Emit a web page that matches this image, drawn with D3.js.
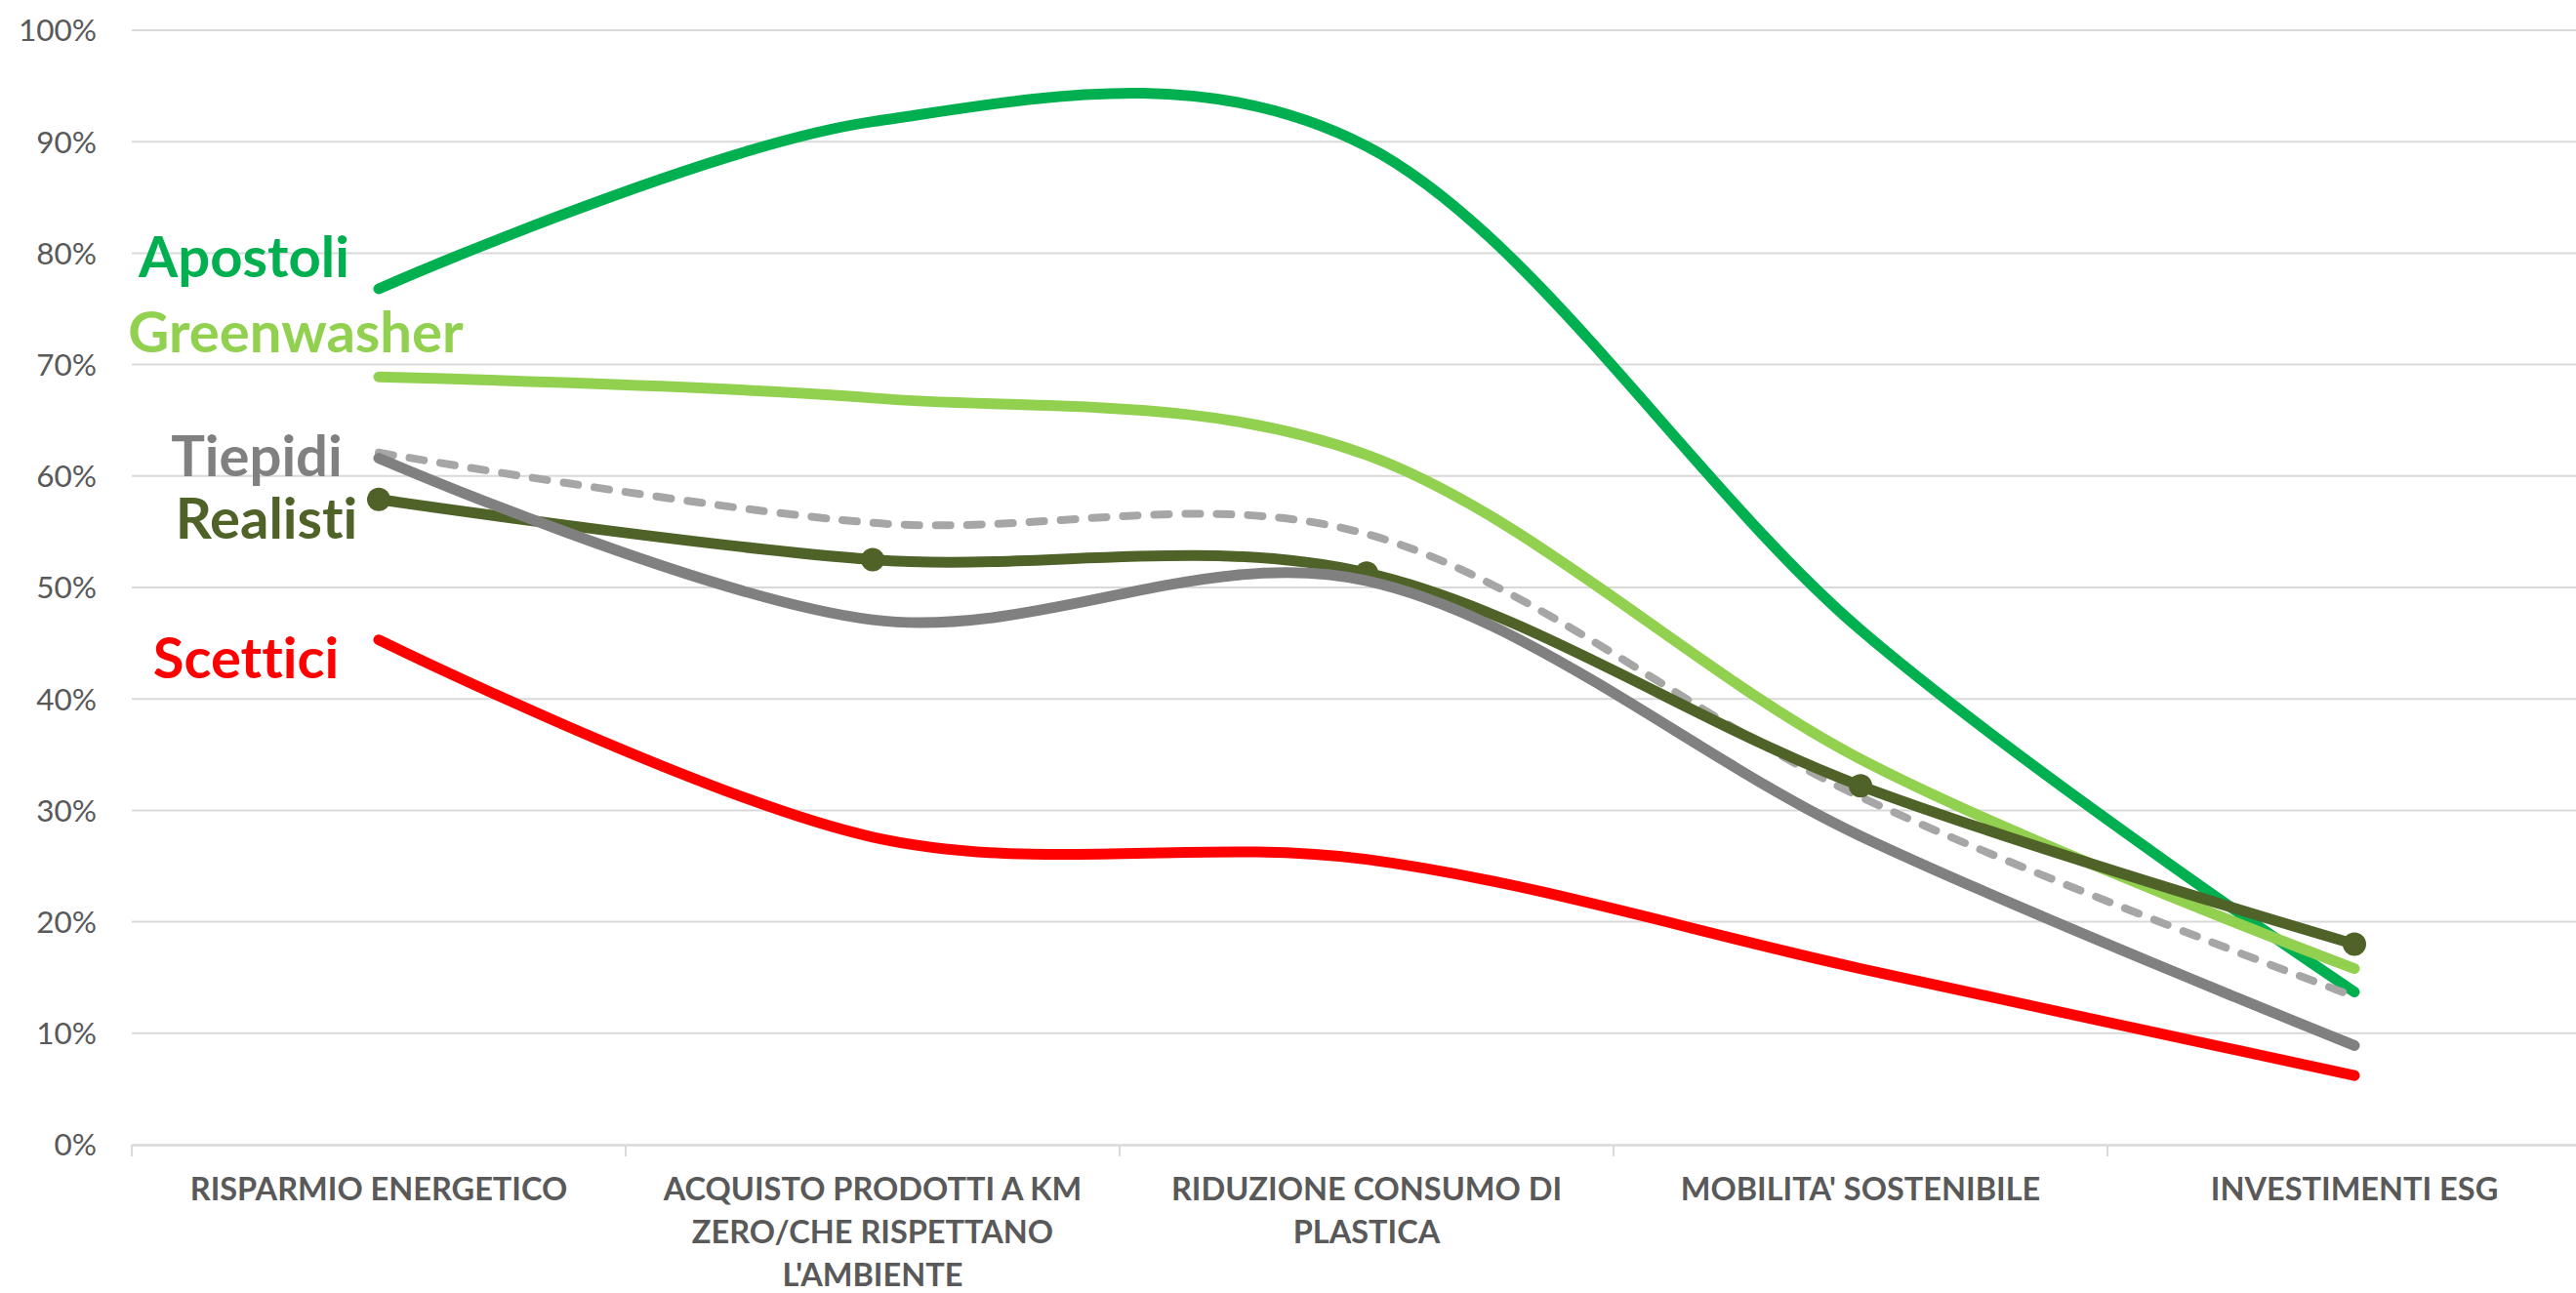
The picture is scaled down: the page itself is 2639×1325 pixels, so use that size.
<!DOCTYPE html>
<html>
<head>
<meta charset="utf-8">
<script src="https://cdn.jsdelivr.net/npm/d3@7"></script>
<style>
  html, body { margin: 0; padding: 0; background: #ffffff; overflow: hidden; }
  svg { display: block; }
  text { font-variant-ligatures: none; font-feature-settings: "liga" 0; }
</style>
</head>
<body>
<svg id="chart"></svg>
<script>
// ---------------- DATA ----------------
const categories = [
  "RISPARMIO ENERGETICO",
  "ACQUISTO PRODOTTI A KM ZERO/CHE RISPETTANO L'AMBIENTE",
  "RIDUZIONE CONSUMO DI PLASTICA",
  "MOBILITA' SOSTENIBILE",
  "INVESTIMENTI ESG"
];
const categoryLines = [
  ["RISPARMIO ENERGETICO"],
  ["ACQUISTO PRODOTTI A KM", "ZERO/CHE RISPETTANO", "L'AMBIENTE"],
  ["RIDUZIONE CONSUMO DI", "PLASTICA"],
  ["MOBILITA' SOSTENIBILE"],
  ["INVESTIMENTI ESG"]
];
const yTickValues = [0, 10, 20, 30, 40, 50, 60, 70, 80, 90, 100];

const seriesNames = ["Apostoli", "Greenwasher", "Media", "Realisti", "Tiepidi", "Scettici"];
const apostoli    = [76.8, 91.8, 89.6, 46.2, 13.7];
const greenwasher = [68.9, 67.0, 61.9, 34.6, 15.8];
const media       = [62.1, 55.8, 54.8, 31.2, 13.3];
const realisti    = [57.9, 52.5, 51.3, 32.2, 18.0];
const tiepidi     = [61.6, 47.1, 50.6, 27.7, 8.9];
const scettici    = [45.3, 27.6, 25.6, 15.8, 6.2];
const seriesValues = [apostoli, greenwasher, media, realisti, tiepidi, scettici];

// ---------------- STYLE / LAYOUT ----------------
const W = 2639, H = 1325;
const margin = { left: 135, top: 31, bottom: 152 };
const plotRight = 2665;            // plot area extends past the cropped right edge
const plotBottom = H - margin.bottom; // 1173

const styles = {
  Apostoli:    { color: "#00B050", width: 11, dash: null, marker: false, label: true,  lx: -138, ly: -12 },
  Greenwasher: { color: "#92D050", width: 11, dash: null, marker: false, label: true,  lx: -85,  ly: -25 },
  Media:       { color: "#A6A6A6", width: 8, dash: "15,17", marker: false, label: false },
  Realisti:    { color: "#4F6228", width: 11, dash: null, marker: true,  label: true,  lx: -115, ly: 40 },
  Tiepidi:     { color: "#808080", width: 11, dash: null, marker: false, label: true,  lx: -125, ly: 18 },
  Scettici:    { color: "#FF0000", width: 11, dash: null, marker: false, label: true,  lx: -136, ly: 39 }
};
const FONT = "Lato, 'Open Sans', sans-serif";
const textGray = "#595959";
const gridGray = "#D9D9D9";

const svg = d3.select("#chart").attr("width", W).attr("height", H)
  .style("background", "#ffffff");

const x = d3.scaleBand().domain(categories).range([margin.left, plotRight]).padding(0);
const y = d3.scaleLinear().domain([0, 100]).range([plotBottom, margin.top]);
const cx = c => x(c) + x.bandwidth() / 2;

// gridlines
svg.append("g").selectAll("line").data(yTickValues.filter(v => v > 0)).join("line")
  .attr("x1", margin.left).attr("x2", plotRight)
  .attr("y1", d => y(d)).attr("y2", d => y(d))
  .attr("stroke", gridGray).attr("stroke-width", 2);

// y tick labels
svg.append("g").selectAll("text").data(yTickValues).join("text")
  .attr("x", 99).attr("y", d => y(d)).attr("dy", "0.36em")
  .attr("text-anchor", "end")
  .attr("font-family", FONT).attr("font-size", 31.5).attr("fill", textGray)
  .text(d => d + "%");

// x axis (baseline + ticks at band boundaries)
const xAxis = d3.axisBottom(x).tickSize(0).tickFormat("");
const gx = svg.append("g").attr("transform", `translate(0,${plotBottom})`).call(xAxis);
gx.select(".domain").attr("stroke", gridGray).attr("stroke-width", 2.5);
const boundaries = categories.map(c => x(c)).concat([plotRight]);
gx.append("g").selectAll("line").data(boundaries).join("line")
  .attr("x1", d => d).attr("x2", d => d).attr("y1", 0).attr("y2", 12)
  .attr("stroke", gridGray).attr("stroke-width", 2);

// x labels
const xl = svg.append("g").selectAll("text").data(categories).join("text")
  .attr("text-anchor", "middle")
  .attr("font-family", FONT).attr("font-weight", "bold").attr("font-size", 32.5)
  .attr("fill", textGray);
xl.each(function(c, i) {
  const t = d3.select(this);
  categoryLines[i].forEach((ln, j) => {
    t.append("tspan").attr("x", cx(c)).attr("y", 1230 + j * 44).text(ln);
  });
});

// lines
const line = d3.line()
  .x((d, i) => cx(categories[i]))
  .y(d => y(d))
  .curve(d3.curveCardinal.tension(0));

const gLines = svg.append("g");
seriesNames.forEach((name, si) => {
  const st = styles[name];
  const vals = seriesValues[si];
  gLines.append("path")
    .attr("d", line(vals))
    .attr("fill", "none")
    .attr("stroke", st.color)
    .attr("stroke-width", st.width)
    .attr("stroke-linecap", "round")
    .attr("stroke-linejoin", "round")
    .attr("stroke-dasharray", st.dash);
  if (st.marker) {
    gLines.append("g").selectAll("circle").data(vals).join("circle")
      .attr("cx", (d, i) => cx(categories[i]))
      .attr("cy", d => y(d))
      .attr("r", 12)
      .attr("fill", st.color);
  }
});

// series labels
seriesNames.forEach((name, si) => {
  const st = styles[name];
  if (!st.label) return;
  const v0 = seriesValues[si][0];
  svg.append("text")
    .attr("x", cx(categories[0]) + st.lx)
    .attr("y", y(v0) + st.ly)
    .attr("text-anchor", "middle")
    .attr("font-family", FONT).attr("font-weight", "bold").attr("font-size", 58)
    .attr("fill", st.color)
    .text(name);
});
</script>
</body>
</html>
